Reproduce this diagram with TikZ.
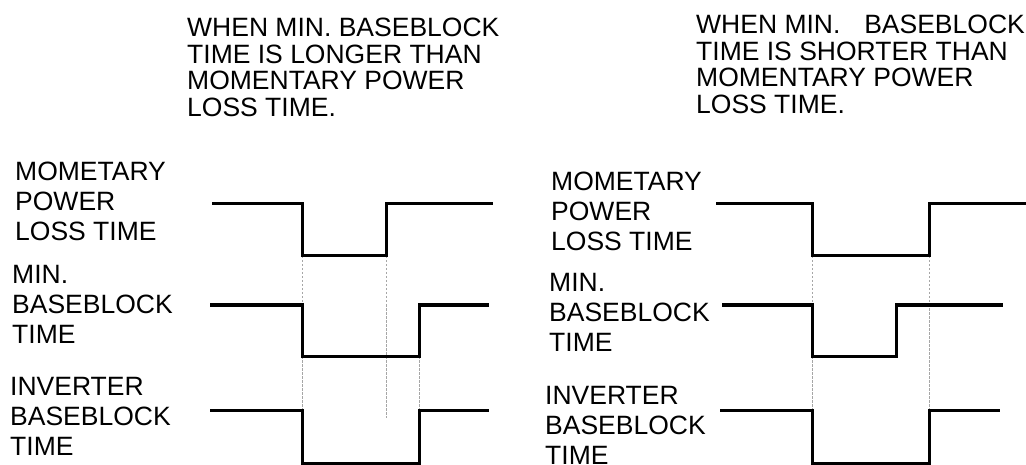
\documentclass[tikz,border=0pt]{standalone}
\usepackage{fontspec}
\setmainfont{Liberation Sans}
\begin{document}
\begin{tikzpicture}[x=1pt,y=-1pt,
  wave/.style={line width=3pt, line join=miter, line cap=butt},
  guide/.style={line width=0.8pt, gray!70, dash pattern=on 2.5pt off 1.5pt},
  title/.style={anchor=base west, inner sep=0pt, font=\fontsize{26.5}{26.7}\selectfont},
  lbl/.style={anchor=base west, inner sep=0pt, font=\fontsize{26.5}{30}\selectfont}]
\useasboundingbox (0,0) rectangle (1026,465);
\newcommand{\lines}[1]{\begin{tabular}[t]{@{}l@{}}#1\end{tabular}}
\renewcommand{\arraystretch}{1}
% titles
\node[title] (t1) at (187,36.6) {\lines{WHEN MIN. BASEBLOCK\\TIME IS LONGER THAN\\MOMENTARY POWER\\LOSS TIME.}};
\node[title] (t2) at (696,33.6) {\lines{WHEN MIN.\hspace{0.9em}BASEBLOCK\\TIME IS SHORTER THAN\\MOMENTARY POWER\\LOSS TIME.}};
% left labels
\node[lbl] (l1) at (15,181) {\lines{MOMETARY\\POWER\\LOSS TIME}};
\node[lbl] (l2) at (12,283.6) {\lines{MIN.\\BASEBLOCK\\TIME}};
\node[lbl] (l3) at (10,395.6) {\lines{INVERTER\\BASEBLOCK\\TIME}};
% right labels
\node[lbl] (r1) at (551,190.6) {\lines{MOMETARY\\POWER\\LOSS TIME}};
\node[lbl] (r2) at (549,291.6) {\lines{MIN.\\BASEBLOCK\\TIME}};
\node[lbl] (r3) at (545,404.5) {\lines{INVERTER\\BASEBLOCK\\TIME}};
% left guides
\draw[guide] (302,256) -- (302,410);
\draw[guide] (386,256) -- (386,418);
\draw[guide] (419,356) -- (419,410);
% right guides
\draw[guide] (812,256) -- (812,410);
\draw[guide] (929,256) -- (929,410);
% left waveforms
\draw[wave] (212,204) -- (302,204) -- (302,256) -- (386,256) -- (386,204) -- (493,204);
\draw[wave] (210,305) -- (302,305) -- (302,356) -- (419,356) -- (419,305) -- (489,305);
\draw[wave] (210,410) -- (302,410) -- (302,463) -- (419,463) -- (419,410) -- (489,410);
% right waveforms
\draw[wave] (716,204) -- (812,204) -- (812,256) -- (929,256) -- (929,204) -- (1026,204);
\draw[wave] (722,305) -- (812,305) -- (812,356) -- (896,356) -- (896,305) -- (1003,305);
\draw[wave] (720,410) -- (812,410) -- (812,463) -- (929,463) -- (929,410) -- (1000,410);
\end{tikzpicture}
\end{document}
